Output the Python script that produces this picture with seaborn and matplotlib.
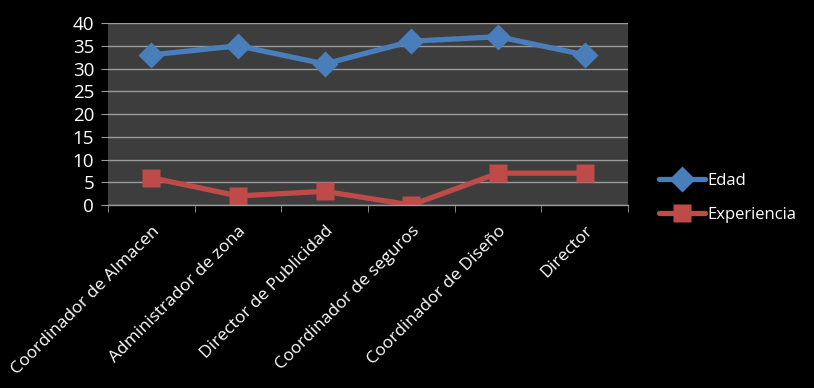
import pandas as pd
import numpy as np
import matplotlib
matplotlib.use('Agg')
import matplotlib.pyplot as plt
import seaborn as sns

puestos = ['Coordinador de Almacen', 'Administrador de zona', 'Director de Publicidad',
           'Coordinador de seguros', 'Coordinador de Diseño', 'Director']
edad = [33, 35, 31, 36, 37, 33]
experiencia = [6, 2, 3, 0, 7, 7]
y_ticks = [0, 5, 10, 15, 20, 25, 30, 35, 40]

df = pd.DataFrame({'puesto': puestos * 2,
                   'valor': edad + experiencia,
                   'serie': ['Edad'] * len(puestos) + ['Experiencia'] * len(puestos)})

sns.set_style('dark')
plt.rcParams['font.family'] = ['Open Sans', 'DejaVu Sans']

fig = plt.figure(figsize=(8.14, 3.88), dpi=100, facecolor='black')
ax = fig.add_axes([0.1327, 0.4716, 0.639, 0.469])
ax.set_facecolor('#3d3d3d')

sns.lineplot(data=df, x='puesto', y='valor', hue='serie', style='serie',
             palette={'Edad': '#4a7ebb', 'Experiencia': '#be4b48'},
             markers={'Edad': 'D', 'Experiencia': 's'}, dashes=False,
             linewidth=3.8, markersize=13, markeredgecolor='none', ax=ax)

ax.set_xlim(-0.5, len(puestos) - 0.5)
ax.set_ylim(0, 40)
ax.set_yticks(y_ticks)
ax.yaxis.grid(True, color='#9a9a9a', linewidth=1)
ax.xaxis.grid(False)
ax.set_axisbelow(True)

for s in ['top', 'right', 'left']:
    ax.spines[s].set_visible(False)
ax.spines['bottom'].set_color('#9a9a9a')
ax.spines['bottom'].set_linewidth(1)

ax.set_xticks(range(len(puestos)))
ax.set_xticklabels(puestos, rotation=45, ha='right', va='top', rotation_mode='anchor')
ax.set_xticks(np.arange(-0.5, len(puestos), 1), minor=True)
ax.tick_params(axis='x', which='major', length=0, pad=13, colors='white', labelsize=12.5)
ax.tick_params(axis='x', which='minor', length=5, color='#9a9a9a', bottom=True)
ax.tick_params(axis='y', length=5, color='#9a9a9a', labelcolor='white', labelsize=13.5, pad=5, left=True)
ax.set_xlabel('')
ax.set_ylabel('')

leg = ax.legend(loc='center left', bbox_to_anchor=(1.03, 0.04), frameon=False,
                fontsize=12, labelcolor='white', handlelength=2.8, handletextpad=0.1,
                labelspacing=1.1)

fig.savefig('out.png', dpi=100, facecolor='black')
